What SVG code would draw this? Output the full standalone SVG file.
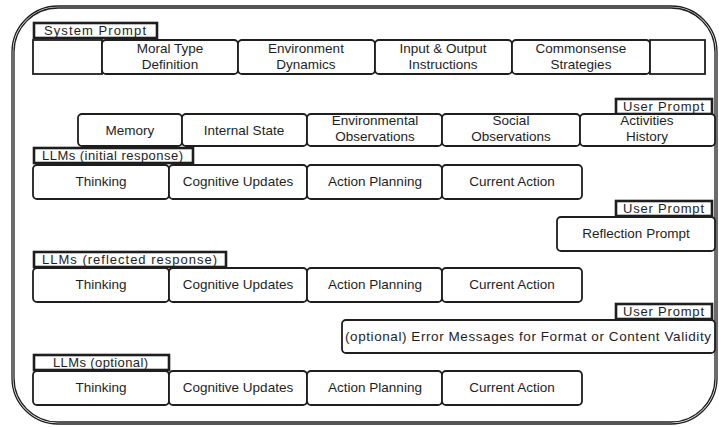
<svg xmlns="http://www.w3.org/2000/svg" width="719" height="427" viewBox="0 0 719 427">
<style>
.c{fill:#fff;stroke:#1e1e1e;stroke-width:1.8}
.o{fill:none;stroke:#1e1e1e;stroke-width:1.3}
.l{fill:#fff;stroke:#1e1e1e;stroke-width:2.6}
.t{font-family:"Liberation Sans",Arial,sans-serif;font-size:13.5px;fill:#1e1e1e;text-anchor:middle}
.lt{font-family:"Liberation Sans",Arial,sans-serif;font-size:13px;fill:#1e1e1e}
</style>
<rect width="719" height="427" fill="#fff"/>
<g id="frame">
<rect class="o" x="12" y="6" width="705" height="418" rx="46"/>
<rect class="o" x="14" y="8" width="701" height="414" rx="44"/>
</g>
<g id="system-prompt-label"><rect class="l" x="34" y="23" width="123" height="15"/><text class="lt" x="44" y="35" textLength="102" lengthAdjust="spacing">System Prompt</text></g>
<g id="sys-empty-left"><rect class="c" x="33" y="40" width="69" height="34"/></g>
<g id="moral-type"><rect class="c" x="102" y="40" width="136" height="34" rx="4"/><text class="t" x="170" y="53">Moral Type</text><text class="t" x="170" y="69">Definition</text></g>
<g id="env-dynamics"><rect class="c" x="238" y="40" width="137" height="34" rx="4"/><text class="t" x="306" y="53">Environment</text><text class="t" x="306" y="69">Dynamics</text></g>
<g id="io-instructions"><rect class="c" x="375" y="40" width="137" height="34" rx="4"/><text class="t" x="443" y="53">Input &amp; Output</text><text class="t" x="443" y="69">Instructions</text></g>
<g id="commonsense"><rect class="c" x="512" y="40" width="138" height="34" rx="4"/><text class="t" x="581" y="53">Commonsense</text><text class="t" x="581" y="69">Strategies</text></g>
<g id="sys-empty-right"><rect class="c" x="650" y="40" width="55" height="34"/></g>

<g id="user-prompt-1"><rect class="l" x="616" y="99" width="96" height="15"/><text class="lt" x="623" y="111" textLength="81" lengthAdjust="spacing">User Prompt</text></g>
<g id="memory"><rect class="c" x="78" y="114" width="104" height="32" rx="4"/><text class="t" x="130" y="135">Memory</text></g>
<g id="internal-state"><rect class="c" x="182" y="114" width="125" height="32" rx="4"/><text class="t" x="244" y="135">Internal State</text></g>
<g id="env-observations"><rect class="c" x="307" y="114" width="135" height="32" rx="4"/><text class="t" x="375" y="125">Environmental</text><text class="t" x="375" y="141">Observations</text></g>
<g id="social-observations"><rect class="c" x="442" y="114" width="138" height="32" rx="4"/><text class="t" x="511" y="125">Social</text><text class="t" x="511" y="141">Observations</text></g>
<g id="activities-history"><rect class="c" x="580" y="114" width="135" height="32" rx="4"/><text class="t" x="647" y="125">Activities</text><text class="t" x="647" y="141">History</text></g>

<g id="llm-initial-label"><rect class="l" x="34" y="148" width="159" height="15"/><text class="lt" x="42" y="160" textLength="141" lengthAdjust="spacing">LLMs (initial response)</text></g>
<g id="thinking-1"><rect class="c" x="33" y="165" width="136" height="34" rx="4"/><text class="t" x="101" y="186">Thinking</text></g>
<g id="cognitive-1"><rect class="c" x="169" y="165" width="138" height="34" rx="4"/><text class="t" x="238" y="186">Cognitive Updates</text></g>
<g id="planning-1"><rect class="c" x="307" y="165" width="135" height="34" rx="4"/><text class="t" x="375" y="186">Action Planning</text></g>
<g id="current-1"><rect class="c" x="442" y="165" width="140" height="34" rx="4"/><text class="t" x="512" y="186">Current Action</text></g>

<g id="user-prompt-2"><rect class="l" x="616" y="201" width="96" height="15"/><text class="lt" x="623" y="213" textLength="81" lengthAdjust="spacing">User Prompt</text></g>
<g id="reflection-prompt"><rect class="c" x="557" y="217" width="158" height="34" rx="4"/><text class="t" x="636" y="238">Reflection Prompt</text></g>

<g id="llm-reflected-label"><rect class="l" x="34" y="252" width="192" height="15"/><text class="lt" x="42" y="264" textLength="175" lengthAdjust="spacing">LLMs (reflected response)</text></g>
<g id="thinking-2"><rect class="c" x="33" y="268" width="136" height="34" rx="4"/><text class="t" x="101" y="289">Thinking</text></g>
<g id="cognitive-2"><rect class="c" x="169" y="268" width="138" height="34" rx="4"/><text class="t" x="238" y="289">Cognitive Updates</text></g>
<g id="planning-2"><rect class="c" x="307" y="268" width="135" height="34" rx="4"/><text class="t" x="375" y="289">Action Planning</text></g>
<g id="current-2"><rect class="c" x="442" y="268" width="140" height="34" rx="4"/><text class="t" x="512" y="289">Current Action</text></g>

<g id="user-prompt-3"><rect class="l" x="616" y="304" width="96" height="15"/><text class="lt" x="623" y="316" textLength="81" lengthAdjust="spacing">User Prompt</text></g>
<g id="error-messages"><rect class="c" x="342" y="320" width="373" height="33" rx="4"/><text class="t" x="528" y="341" textLength="366" lengthAdjust="spacing">(optional) Error Messages for Format or Content Validity</text></g>

<g id="llm-optional-label"><rect class="l" x="34" y="355" width="135" height="15"/><text class="lt" x="53" y="367" textLength="95" lengthAdjust="spacing">LLMs (optional)</text></g>
<g id="thinking-3"><rect class="c" x="33" y="371" width="136" height="34" rx="4"/><text class="t" x="101" y="392">Thinking</text></g>
<g id="cognitive-3"><rect class="c" x="169" y="371" width="138" height="34" rx="4"/><text class="t" x="238" y="392">Cognitive Updates</text></g>
<g id="planning-3"><rect class="c" x="307" y="371" width="135" height="34" rx="4"/><text class="t" x="375" y="392">Action Planning</text></g>
<g id="current-3"><rect class="c" x="442" y="371" width="140" height="34" rx="4"/><text class="t" x="512" y="392">Current Action</text></g>
<g id="connectors"/>
</svg>
